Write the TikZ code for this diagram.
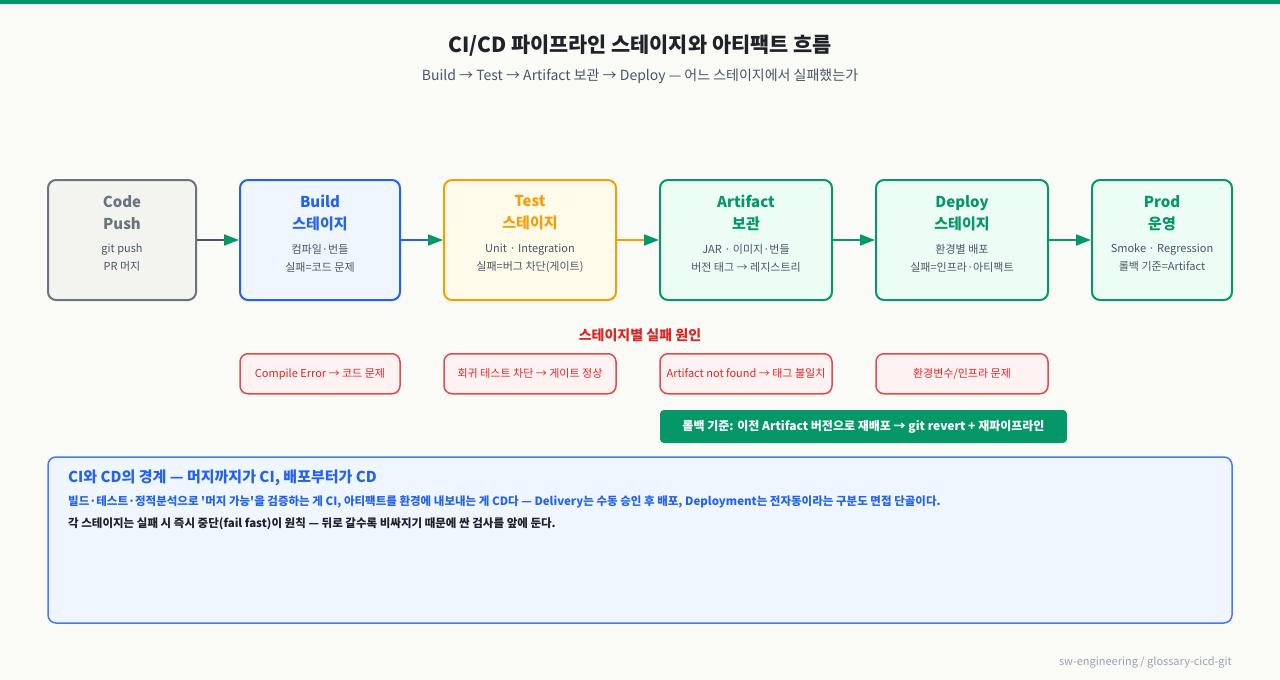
\documentclass[tikz,border=0pt]{standalone}
\usepackage{fontspec}
\setmainfont{Noto Sans CJK KR}[Ligatures=TeXOff]
\usetikzlibrary{positioning,arrows.meta}

\definecolor{fond}{HTML}{FAFAF7}
\definecolor{encre}{HTML}{1F2328}
\definecolor{texte}{HTML}{4B5563}
\definecolor{gris}{HTML}{6B7280}
\definecolor{grisclair}{HTML}{F3F4EF}
\definecolor{bleu}{HTML}{2563EB}
\definecolor{bleuclair}{HTML}{EFF6FF}
\definecolor{ambre}{HTML}{F59E0B}
\definecolor{ambreclair}{HTML}{FFFBEB}
\definecolor{vert}{HTML}{059669}
\definecolor{vertclair}{HTML}{ECFDF5}
\definecolor{rouge}{HTML}{DC2626}
\definecolor{rougebord}{HTML}{E5484D}
\definecolor{rougeclair}{HTML}{FEF2F2}
\definecolor{pied}{HTML}{9CA3AF}

\tikzset{etape/.style 2 args={draw=#1,line width=2pt,fill=#2,rounded corners=8pt,minimum height=120pt},
titre/.style={font=\bfseries\fontsize{15}{22}\selectfont,text=#1,align=center},
detail/.style={font=\fontsize{11}{18}\selectfont,text=texte,align=center},
fleche/.style={draw=#1,line width=2pt,-{Triangle[length=15pt,width=11pt,color=vert]}},
echec/.style={draw=rougebord,line width=1.5pt,fill=rougeclair,rounded corners=8pt,minimum height=40pt,
	text=rouge,font=\fontsize{11}{13}\selectfont},
note/.style={anchor=west,inner sep=0pt,font=\bfseries\fontsize{11.5}{14}\selectfont,text=#1}}

\begin{document}
\begin{tikzpicture}[x=1pt,y=-1pt]
\useasboundingbox[fill=fond] (0,0) rectangle (1280,680);
\fill[vert] (0,0) rectangle (1280,4);

\node[font=\bfseries\fontsize{20.8}{24}\selectfont,text=encre] (entete) at (640,46) {CI/CD 파이프라인 스테이지와 아티팩트 흐름};
\node[font=\fontsize{14}{17}\selectfont,text=texte] (soustitre) at (640,76) {Build → Test → Artifact 보관 → Deploy — 어느 스테이지에서 실패했는가};

% les etapes du pipeline
\node[etape={gris}{grisclair},minimum width=148pt] (code) at (122,240) {};
\node[etape={bleu}{bleuclair},minimum width=160pt] (build) at (320,240) {};
\node[etape={ambre}{ambreclair},minimum width=172pt] (test) at (530,240) {};
\node[etape={vert}{vertclair},minimum width=172pt] (artifact) at (746,240) {};
\node[etape={vert}{vertclair},minimum width=172pt] (deploy) at (962,240) {};
\node[etape={vert}{vertclair},minimum width=140pt] (prod) at (1162,240) {};

\node[titre=gris] (code-t) at ([yshift=-34pt]code.north) {Code\\Push};
\node[detail] (code-d) at ([yshift=-79pt]code.north) {git push\\PR 머지};
\node[titre=bleu] (build-t) at ([yshift=-34pt]build.north) {Build\\스테이지};
\node[detail] (build-d) at ([yshift=-79pt]build.north) {컴파일·번들\\실패=코드 문제};
\node[titre=ambre] (test-t) at ([yshift=-34pt]test.north) {Test\\스테이지};
\node[detail] (test-d) at ([yshift=-79pt]test.north) {Unit · Integration\\실패=버그 차단(게이트)};
\node[titre=vert] (artifact-t) at ([yshift=-34pt]artifact.north) {Artifact\\보관};
\node[detail] (artifact-d) at ([yshift=-79pt]artifact.north) {JAR · 이미지·번들\\버전 태그 → 레지스트리};
\node[titre=vert] (deploy-t) at ([yshift=-34pt]deploy.north) {Deploy\\스테이지};
\node[detail] (deploy-d) at ([yshift=-79pt]deploy.north) {환경별 배포\\실패=인프라·아티팩트};
\node[titre=vert] (prod-t) at ([yshift=-34pt]prod.north) {Prod\\운영};
\node[detail] (prod-d) at ([yshift=-79pt]prod.north) {Smoke · Regression\\롤백 기준=Artifact};

\draw[fleche=texte] (code) -- (build);
\draw[fleche=bleu] (build) -- (test);
\draw[fleche=ambre] (test) -- (artifact);
\draw[fleche=vert] (artifact) -- (deploy);
\draw[fleche=vert] (deploy) -- (prod);

% causes d'echec
\node[font=\bfseries\fontsize{14}{17}\selectfont,text=rouge] (causes) at (640,335) {스테이지별 실패 원인};
\node[echec,minimum width=160pt,below=52pt of build] (build-e) {Compile Error → 코드 문제};
\node[echec,minimum width=172pt,below=52pt of test] (test-e) {회귀 테스트 차단 → 게이트 정상};
\node[echec,minimum width=172pt,below=52pt of artifact] (artifact-e) {Artifact not found → 태그 불일치};
\node[echec,minimum width=172pt,below=52pt of deploy] (deploy-e) {환경변수/인프라 문제};

\node[fill=vert,rounded corners=4pt,minimum width=407pt,minimum height=33pt,text=white,
	font=\bfseries\fontsize{12}{14}\selectfont] (rollback) at (863.5,426.5) {롤백 기준: 이전 Artifact 버전으로 재배포 → git revert + 재파이프라인};

% encadre du bas
\node[draw=bleu!85!white,line width=1.5pt,fill=bleuclair,rounded corners=8pt,minimum width=1184pt,minimum height=166pt] (bilan) at (640,540) {};
\node[note=bleu,font=\bfseries\fontsize{15}{18}\selectfont] (bilan-t) at (68,478) {CI와 CD의 경계 — 머지까지가 CI, 배포부터가 CD};
\node[note=bleu] (bilan-a) at (68,502) {빌드·테스트·정적분석으로 '머지 가능'을 검증하는 게 CI, 아티팩트를 환경에 내보내는 게 CD다 — Delivery는 수동 승인 후 배포, Deployment는 전자동이라는 구분도 면접 단골이다.};
\node[note=encre] (bilan-b) at (68,524) {각 스테이지는 실패 시 즉시 중단(fail fast)이 원칙 — 뒤로 갈수록 비싸지기 때문에 싼 검사를 앞에 둔다.};

\node[anchor=east,inner sep=0pt,font=\fontsize{11}{13}\selectfont,text=pied] (source) at (1232,662) {sw-engineering / glossary-cicd-git};
\end{tikzpicture}
\end{document}
